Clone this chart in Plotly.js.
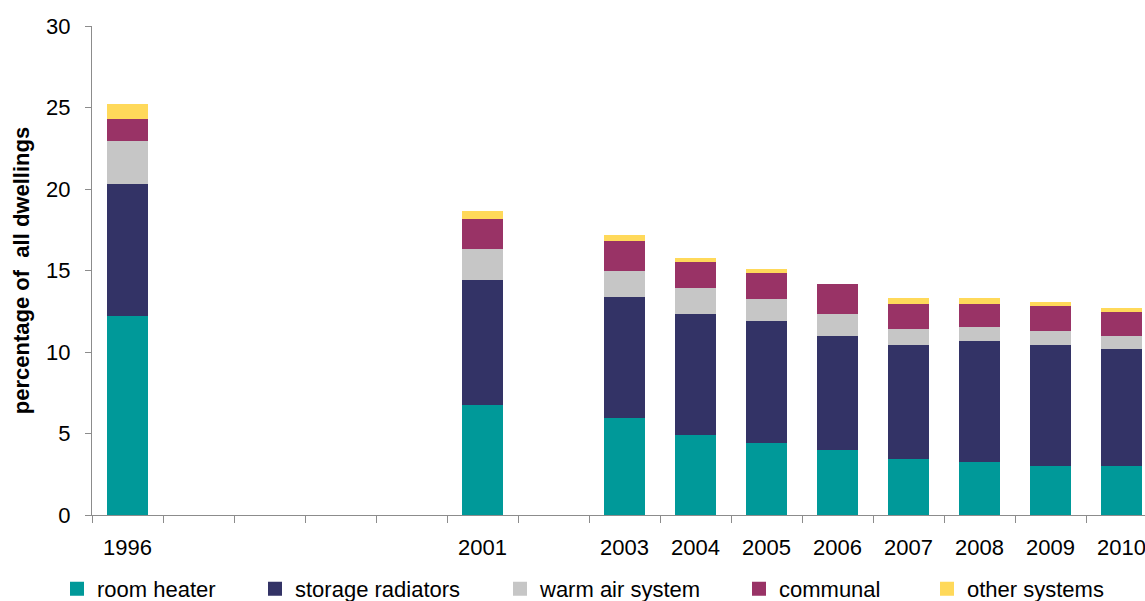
<!DOCTYPE html>
<html>
<head>
<meta charset="utf-8">
<script src="https://cdn.plot.ly/plotly-3.0.1.min.js"></script>
<style>
html,body{margin:0;padding:0;overflow:hidden;background:#fff;}
#chart{width:1160px;height:601px;}
</style>
</head>
<body>
<div id="chart"></div>
<script>
// Axis categories (all years, labels blank where there is no survey)
const allYears = ['1996','1997','1998','1999','2000','2001','2002','2003','2004','2005','2006','2007','2008','2009','2010'];
const yearLabels = ['1996','','','','','2001','','2003','2004','2005','2006','2007','2008','2009','2010'];
// Years with data
const years = ['1996','2001','2003','2004','2005','2006','2007','2008','2009','2010'];
// Series values (percentage of all dwellings); null = no visible segment
const roomHeater       = [12.27, 6.81, 6.01, 4.97, 4.50, 4.05, 3.50, 3.31, 3.07, 3.07];
const storageRadiators = [8.10, 7.67, 7.43, 7.42, 7.46, 6.99, 6.99, 7.43, 7.42, 7.18];
const warmAirSystem    = [2.64, 1.90, 1.59, 1.60, 1.35, 1.35, 0.98, 0.86, 0.86, 0.79];
const communal         = [1.35, 1.84, 1.84, 1.59, 1.60, 1.72, 1.54, 1.41, 1.53, 1.48];
const otherSystems     = [0.80, 0.37, 0.25, 0.12, 0.12, null, 0.24, 0.24, 0.13, 0.12];
const seriesNames  = ['room heater','storage radiators','warm air system','communal','other systems'];
const seriesColors = ['#009999','#333366','#C6C6C6','#993366','#FFD95A'];
const seriesData   = [roomHeater, storageRadiators, warmAirSystem, communal, otherSystems];

const W = 1160;
const legendSymbolX = [80, 278, 523, 762, 950];
const FONT = 'Liberation Sans, Arial, sans-serif';

const traces = seriesData.map((vals, i) => ({
  type: 'bar',
  name: seriesNames[i],
  x: years,
  y: vals,
  marker: {color: seriesColors[i], line: {color: seriesColors[i], width: 2}},
  legend: i === 0 ? 'legend' : 'legend' + (i + 1),
  hoverinfo: 'x+y+name'
}));

const layout = {
  width: W,
  height: 601,
  barmode: 'stack',
  bargap: 0.44,
  paper_bgcolor: '#fff',
  plot_bgcolor: '#fff',
  margin: {l: 92, r: 3, t: 26, b: 86},
  font: {family: FONT, size: 22, color: '#000'},
  xaxis: {
    type: 'category',
    categoryorder: 'array',
    categoryarray: allYears,
    range: [-0.5, 14.5],
    tickmode: 'array',
    tickvals: allYears,
    ticktext: yearLabels,
    tickson: 'boundaries',
    ticks: 'outside',
    ticklen: 7,
    tickcolor: '#8c8c8c',
    showline: true,
    linecolor: '#8c8c8c',
    linewidth: 1,
    showgrid: false,
    zeroline: false,
    ticklabelstandoff: 13,
    tickfont: {family: FONT, size: 22, color: '#000'}
  },
  yaxis: {
    range: [0, 30],
    tickvals: [0, 5, 10, 15, 20, 25, 30],
    ticks: 'outside',
    ticklen: 6,
    tickcolor: '#8c8c8c',
    showline: true,
    linecolor: '#8c8c8c',
    linewidth: 1,
    showgrid: false,
    zeroline: false,
    ticklabelstandoff: 10,
    tickfont: {family: FONT, size: 22, color: '#000'},
    title: {
      text: 'percentage of \u00a0all dwellings',
      font: {family: FONT, size: 22, color: '#000', weight: 'bold'},
      standoff: 10
    }
  },
  showlegend: true
};

legendSymbolX.forEach((cx, i) => {
  const key = i === 0 ? 'legend' : 'legend' + (i + 1);
  layout[key] = {
    xref: 'container', yref: 'container',
    x: (cx - 23) / W, y: 12 / 601,
    xanchor: 'left', yanchor: 'middle',
    orientation: 'h',
    bgcolor: 'rgba(0,0,0,0)',
    borderwidth: 0,
    font: {family: FONT, size: 22, color: '#000'}
  };
});

Plotly.newPlot('chart', traces, layout, {displayModeBar: false, staticPlot: true});
</script>
</body>
</html>
